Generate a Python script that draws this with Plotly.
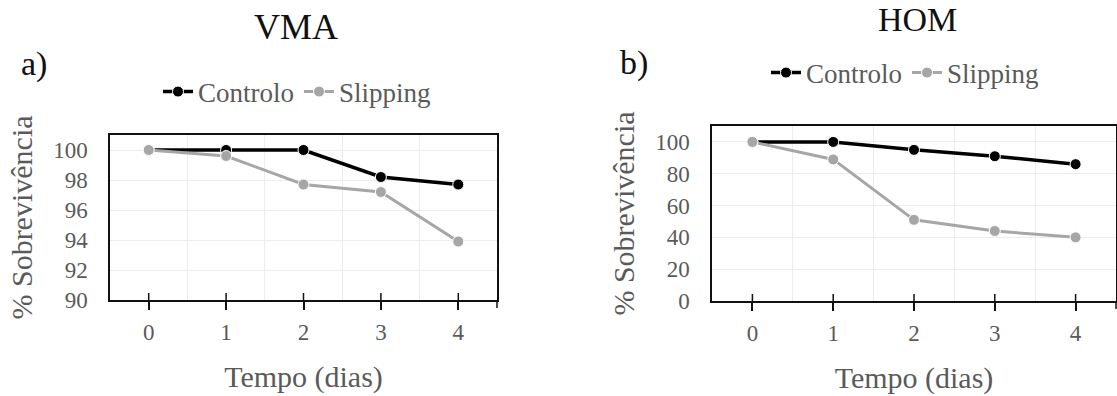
import plotly.graph_objects as go

# Survival over time (days) for the two trials
TEMPO = [0, 1, 2, 3, 4]
VMA_CONTROLO = [100, 100, 100, 98.2, 97.7]
VMA_SLIPPING = [100, 99.6, 97.7, 97.2, 93.9]
HOM_CONTROLO = [100, 100, 95, 91, 86]
HOM_SLIPPING = [100, 89, 51, 44, 40]

VMA_YTICKS = [90, 92, 94, 96, 98, 100]
HOM_YTICKS = [0, 20, 40, 60, 80, 100]

SERIES_NAMES = ["Controlo", "Slipping"]
SERIES_COLORS = ["#000000", "#a6a6a6"]
SERIES_WIDTHS = [3.5, 3]

FONT = "'Liberation Serif', 'Times New Roman', Times, serif"
TEXT_GRAY = "#5a5a5a"
GRID = "#ececec"

W, H = 1117, 396

# pixel boxes of the two panels: (left, right, top, bottom)
PANELS = {
    "left": (110, 497, 135, 300),
    "right": (712, 1116, 126, 301),
}


def dom_x(box):
    return [box[0] / W, box[1] / W]


def dom_y(box):
    return [(H - box[3]) / H, (H - box[2]) / H]


fig = go.Figure()

panels = [
    ("x", "y", "legend", VMA_CONTROLO, VMA_SLIPPING),
    ("x2", "y2", "legend2", HOM_CONTROLO, HOM_SLIPPING),
]
for xa, ya, leg, ctrl, slip in panels:
    for name, vals, col, lw in zip(SERIES_NAMES, [ctrl, slip], SERIES_COLORS, SERIES_WIDTHS):
        fig.add_trace(go.Scatter(
            x=TEMPO, y=vals, name=name, mode="lines+markers",
            xaxis=xa, yaxis=ya, legend=leg,
            line=dict(color=col, width=lw),
            marker=dict(color=col, size=11, line=dict(color="white", width=1)),
        ))

mid_ticks = [(a + b) / 2 for a, b in zip(TEMPO[:-1], TEMPO[1:])]


def x_axis(box, anchor):
    return dict(
        domain=dom_x(box), anchor=anchor, automargin=False,
        range=[TEMPO[0] - 0.5, TEMPO[-1] + 0.5],
        tickmode="array", tickvals=TEMPO, ticktext=[str(t) for t in TEMPO],
        ticks="outside", ticklen=8, tickwidth=1.5, tickcolor="#111",
        ticklabelstandoff=3,
        tickfont=dict(family=FONT, size=23, color=TEXT_GRAY),
        showgrid=False, zeroline=False,
        minor=dict(tickmode="array", tickvals=mid_ticks, showgrid=True,
                   gridcolor=GRID, gridwidth=1, ticks=""),
        showline=True, linecolor="#111", linewidth=1.5, mirror=True,
        title=dict(text="Tempo (dias)", standoff=22,
                   font=dict(family=FONT, size=30, color=TEXT_GRAY)),
    )


def y_axis(box, anchor, rng, ticks):
    return dict(
        domain=dom_y(box), anchor=anchor, range=rng, automargin=False,
        tickmode="array", tickvals=ticks,
        ticks="", ticklabelstandoff=16,
        tickfont=dict(family=FONT, size=23, color=TEXT_GRAY),
        showgrid=True, gridcolor=GRID, gridwidth=1, zeroline=False,
        showline=True, linecolor="#111", linewidth=1.5, mirror=True,
        title=dict(text="% Sobrevivência", standoff=12,
                   font=dict(family=FONT, size=30, color=TEXT_GRAY)),
    )


left, right = PANELS["left"], PANELS["right"]

legend_style = dict(
    orientation="h", xanchor="center", yanchor="middle",
    font=dict(family=FONT, size=27, color=TEXT_GRAY),
    bgcolor="rgba(0,0,0,0)", itemwidth=30, tracegroupgap=0,
)

fig.update_layout(
    width=W, height=H,
    margin=dict(l=0, r=0, t=0, b=0),
    paper_bgcolor="white", plot_bgcolor="white",
    font=dict(family=FONT),
    xaxis=x_axis(left, "y"),
    yaxis=y_axis(left, "x", [90, 101], VMA_YTICKS),
    xaxis2=x_axis(right, "y2"),
    yaxis2=y_axis(right, "x2", [0, 110], HOM_YTICKS),
    legend=dict(x=297 / W, y=(H - 92) / H, **legend_style),
    legend2=dict(x=905 / W, y=(H - 73) / H, **legend_style),
)

# panel titles and letters
for text, x, y, size in [("VMA", 296, 27, 36), ("HOM", 917, 19, 34),
                         ("a)", 34, 64, 34), ("b)", 634, 63, 34)]:
    fig.add_annotation(text=text, x=x / W, y=(H - y) / H, xref="paper", yref="paper",
                       xanchor="center", yanchor="middle", showarrow=False,
                       font=dict(family=FONT, size=size, color="#111"))

# tick marks cross the x axis: add the part that sits inside the plot
for xa, ya, box in [("x", "y", left), ("x2", "y2", right)]:
    h = box[3] - box[2]
    for t in TEMPO:
        fig.add_shape(type="line", xref=xa, yref=f"{ya} domain",
                      x0=t, x1=t, y0=0, y1=7 / h,
                      line=dict(color="#111", width=1.5))
    # right frame edge runs a little below the axis
    fig.add_shape(type="line", xref=f"{xa} domain", yref=f"{ya} domain",
                  x0=1, x1=1, y0=-8 / h, y1=0,
                  line=dict(color="#111", width=1.5))

fig.write_html("out.html")
